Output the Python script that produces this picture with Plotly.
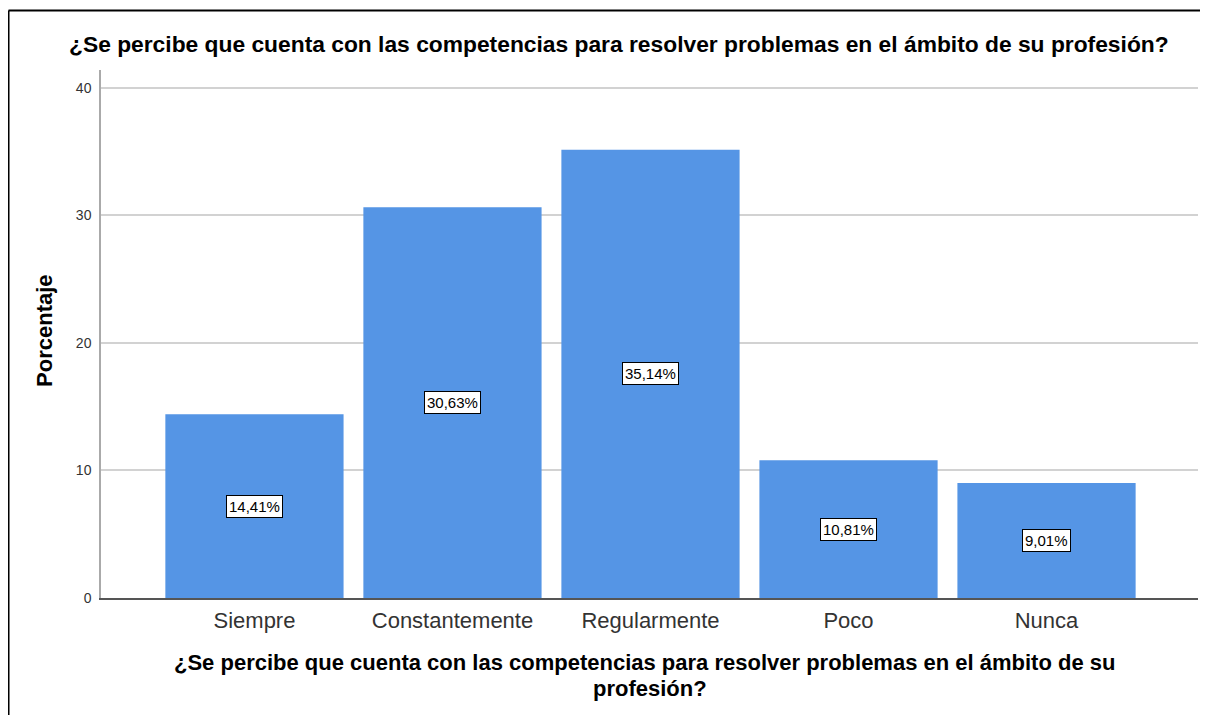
import plotly.graph_objects as go

# Datos
categorias = ['Siempre', 'Constantemente', 'Regularmente', 'Poco', 'Nunca']
porcentajes = [14.41, 30.63, 35.14, 10.81, 9.01]
etiquetas = ['14,41%', '30,63%', '35,14%', '10,81%', '9,01%']
y_ticks = [0, 10, 20, 30, 40]

pregunta = '¿Se percibe que cuenta con las competencias para resolver problemas en el ámbito de su profesión?'
titulo_x_1 = '¿Se percibe que cuenta con las competencias para resolver problemas en el ámbito de su'
titulo_x_2 = 'profesión?'

fuente = 'Liberation Sans, Arial, sans-serif'

fig = go.Figure(go.Bar(
    x=categorias,
    y=porcentajes,
    marker=dict(color='#5595e5', line=dict(width=0)),
    width=0.9,
    hoverinfo='x+y',
))

# Etiquetas en caja blanca a media altura de cada barra
for cat, val, txt in zip(categorias, porcentajes, etiquetas):
    fig.add_annotation(
        x=cat, y=val / 2, text=txt, showarrow=False,
        font=dict(family=fuente, size=15, color='black'),
        bgcolor='white', bordercolor='black', borderwidth=1, borderpad=2,
    )

# Título superior
fig.add_annotation(
    xref='paper', yref='paper', x=0.472, y=1.049,
    text='<b>' + pregunta + '</b>', showarrow=False,
    font=dict(family=fuente, size=22.8, color='black'),
    xanchor='center', yanchor='middle',
)

# Título del eje X (dos líneas)
fig.add_annotation(
    xref='paper', yref='paper', x=0.495, y=-0.123,
    text='<b>' + titulo_x_1 + '</b>', showarrow=False,
    font=dict(family=fuente, size=22, color='black'),
    xanchor='center', yanchor='middle',
)
fig.add_annotation(
    xref='paper', yref='paper', x=0.5, y=-0.1705,
    text='<b>' + titulo_x_2 + '</b>', showarrow=False,
    font=dict(family=fuente, size=22, color='black'),
    xanchor='center', yanchor='middle',
)

# Título del eje Y
fig.add_annotation(
    xref='paper', yref='paper', x=-0.051, y=0.506,
    text='<b>Porcentaje</b>', showarrow=False, textangle=-90,
    font=dict(family=fuente, size=22, color='black'),
    xanchor='center', yanchor='middle',
)

# Marco negro (lado izquierdo y superior)
fig.add_shape(type='line', xref='paper', yref='paper',
              x0=-0.0843, x1=-0.0843, y0=-0.25, y1=1.1127,
              line=dict(color='black', width=2))
fig.add_shape(type='line', xref='paper', yref='paper',
              x0=-0.0843, x1=1.02, y0=1.1127, y1=1.1127,
              line=dict(color='black', width=2))

fig.update_layout(
    width=1200, height=707,
    margin=dict(l=93, r=10, t=62, b=117),
    paper_bgcolor='white', plot_bgcolor='white',
    font=dict(family=fuente, color='#333333'),
    showlegend=False,
    bargap=0.1,
    xaxis=dict(
        range=[-0.775, 4.765],
        showgrid=False, showline=True, linecolor='#555555', linewidth=1.5,
        ticks='', ticklabelstandoff=2,
        tickfont=dict(size=22, color='#333333'),
        fixedrange=True,
    ),
    yaxis=dict(
        range=[0, 41.4],
        tickvals=y_ticks,
        showgrid=True, gridcolor='#d2d2d2', gridwidth=1.5,
        showline=True, linecolor='#aaaaaa', linewidth=1.5,
        zeroline=False, ticks='', ticklabelstandoff=5,
        tickfont=dict(size=14, color='#333333'),
    ),
)

fig.write_html('out.html')
